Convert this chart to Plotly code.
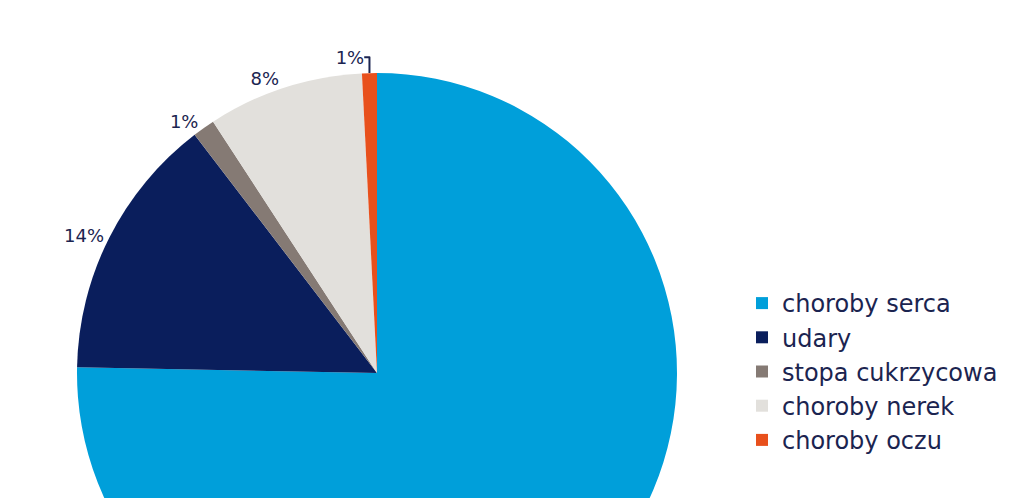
import plotly.graph_objects as go

categories = ["choroby serca", "udary", "stopa cukrzycowa", "choroby nerek", "choroby oczu"]
values = [75.3, 14.3, 1.2, 8.4, 0.8]
colors = ["#009FDA", "#0A1E5C", "#857A74", "#E2E0DC", "#E8501C"]

W, H = 1024, 746
cx, cy, r = 377, 373, 300

fig = go.Figure(go.Pie(
    labels=categories,
    values=values,
    sort=False,
    direction="clockwise",
    rotation=0,
    marker=dict(colors=colors, line=dict(width=0)),
    textposition="outside",
    texttemplate="%{percent:.0%}",
    textfont=dict(family="DejaVu Sans", size=18, color="#1B2450"),
    hoverinfo="label+percent",
    domain=dict(x=[(cx - r) / W, (cx + r) / W], y=[(H - cy - r) / H, (H - cy + r) / H]),
))

fig.update_layout(
    width=W, height=H,
    margin=dict(l=0, r=0, t=0, b=0),
    paper_bgcolor="white",
    showlegend=True,
    legend=dict(
        x=742 / W, y=1 - 281 / H, xanchor="left", yanchor="top",
        font=dict(family="DejaVu Sans", size=24, color="#1B2450"),
        itemsizing="constant",
        traceorder="normal",
    ),
)

fig.write_html("out.html")
